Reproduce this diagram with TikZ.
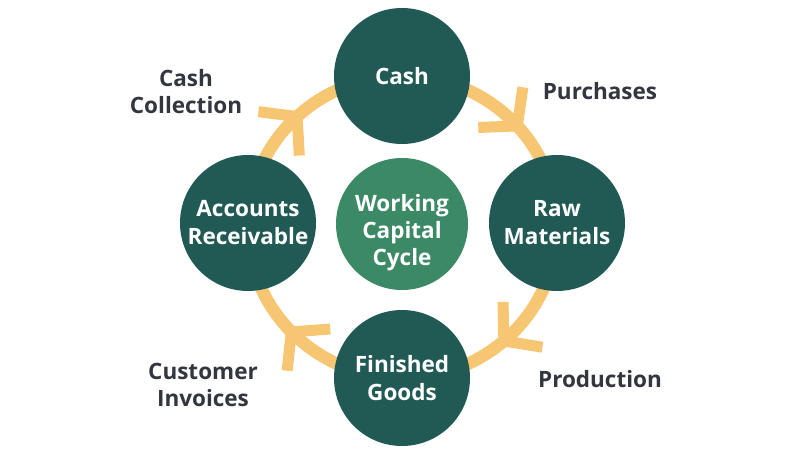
\documentclass[tikz,border=0pt]{standalone}
\usepackage{fontspec}
\usetikzlibrary{calc}
\setmainfont{Open Sans}
\definecolor{darkgreen}{HTML}{215A54}
\definecolor{midgreen}{HTML}{3C8966}
\definecolor{ringcol}{HTML}{F7C672}
\definecolor{labelcol}{HTML}{33363F}
\tikzset{
  stage/.style={circle, fill=darkgreen, minimum size=136pt, inner sep=0pt, text=white, align=center, font=\fontsize{22.5}{28}\selectfont\bfseries},
  hub/.style={circle, fill=midgreen, minimum size=132pt, inner sep=0pt},
  hubtext/.style={text=white, align=center, font=\fontsize{22.5}{27}\selectfont\bfseries},
  flowlabel/.style={text=labelcol, align=center, font=\fontsize{22.5}{27}\selectfont\bfseries},
  ringline/.style={draw=ringcol, line width=12.5pt},
  chevline/.style={draw=ringcol, line width=11pt, line cap=butt, line join=miter},
  chev/.pic={\draw[chevline] (-25,30) -- (0,0) -- (-25,-30);}
}
\begin{document}
\begin{tikzpicture}[x=1pt,y=1pt]
\useasboundingbox (0,0) rectangle (800,456);
\coordinate (ringc) at (402.5,229);
\draw[ringline] (ringc) ellipse [x radius=154.5, y radius=151];
\foreach \t in {42,-49,-136,133}{
  \pic[rotate=\t-90] at ($(ringc)+({154.5*cos(\t)},{151*sin(\t)})$) {chev};
}
\node[stage] (cash) at (402,380) {Cash};
\node[stage] (raw) at (557,233) {Raw\\Materials};
\node[stage] (fg) at (402,78) {Finished\\Goods};
\node[stage] (ar) at (248,233) {Accounts\\Receivable};
\node[hub] (hub) at (402,232) {};
\node[hubtext] (hubt) at (402,223) {Working\\Capital\\Cycle};
\node[flowlabel] (lcc) at (186,364) {Cash\\Collection};
\node[flowlabel] (lpu) at (600,365) {Purchases};
\node[flowlabel] (lpr) at (600,77) {Production};
\node[flowlabel] (lci) at (203,71) {Customer\\Invoices};
\end{tikzpicture}
\end{document}
